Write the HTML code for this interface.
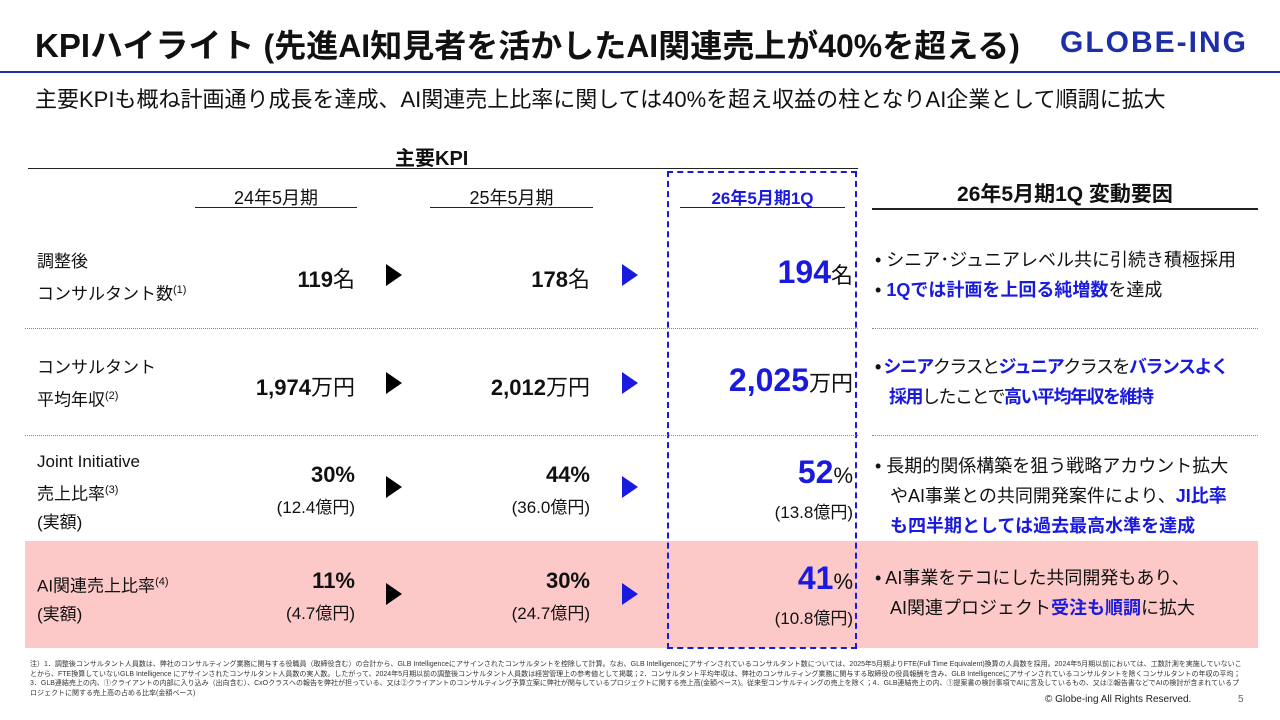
<!DOCTYPE html>
<html><head><meta charset="utf-8">
<style>
*{margin:0;padding:0;box-sizing:border-box}
body{width:1280px;height:720px;background:#fff;position:relative;overflow:hidden;font-family:"Liberation Sans","Noto Sans CJK JP",sans-serif;color:#111}
.a{position:absolute;white-space:nowrap}
.b{font-weight:bold}
.blue{color:#1a1adf}
.hr{position:absolute;height:0;border-top:1px solid #222}
.dot{position:absolute;height:0;border-top:1px dotted #888}
.lbl{font-size:17px;line-height:28px}
.val{font-size:22px;text-align:right}
.sub{font-size:17px;text-align:right}
.big{font-size:32px;font-weight:bold;color:#1a1adf}
.tri{position:absolute;width:0;height:0;border-top:11px solid transparent;border-bottom:11px solid transparent;border-left:16px solid #000}
.tri.bl{border-left-color:#1a1adf}
.rt{position:absolute;left:875px;font-size:18px;line-height:30px;white-space:nowrap}
</style></head><body>
<div class="a b" style="left:35px;top:19px;font-size:33px">KPIハイライト <span style="font-size:32px">(先進AI知見者を活かしたAI関連売上が40%を超える)</span></div>
<div class="a b" style="left:1060px;top:26px;font-size:30px;color:#1d2fa8;letter-spacing:2px">GLOBE-ING</div>
<div class="hr" style="left:0;top:71px;width:1280px;border-top:2px solid #1d2fa8"></div>
<div class="a" style="left:35px;top:82px;font-size:22px">主要KPIも概ね計画通り成長を達成、AI関連売上比率に関しては40%を超え収益の柱となりAI企業として順調に拡大</div>

<div class="a" style="left:25px;top:541px;width:1233px;height:107px;background:#fcc8c8"></div>

<div class="a b" style="left:395px;top:142px;font-size:20px">主要KPI</div>
<div class="hr" style="left:28px;top:168px;width:830px"></div>
<div class="a" style="left:195px;top:184px;width:162px;text-align:center;font-size:18px">24年5月期</div>
<div class="hr" style="left:195px;top:207px;width:162px"></div>
<div class="a" style="left:430px;top:184px;width:163px;text-align:center;font-size:18px">25年5月期</div>
<div class="hr" style="left:430px;top:207px;width:163px"></div>
<div class="a b blue" style="left:680px;top:184px;width:165px;text-align:center;font-size:17px">26年5月期1Q</div>
<div class="hr" style="left:680px;top:207px;width:165px"></div>
<div class="a b" style="left:872px;top:178px;width:386px;text-align:center;font-size:21px">26年5月期1Q 変動要因</div>
<div class="hr" style="left:872px;top:208px;width:386px;border-top:2px solid #222"></div>

<div class="a" style="left:667px;top:171px;width:190px;height:478px;border:2px dashed #1a1adf"></div>

<!-- row 1 -->
<div class="a lbl" style="left:37px;top:248px">調整後<br>コンサルタント数<sup style="font-size:11px">(1)</sup></div>
<div class="a val" style="left:200px;top:262px;width:155px"><b>119</b>名</div>
<div class="tri" style="left:386px;top:264px"></div>
<div class="a val" style="left:430px;top:262px;width:160px"><b>178</b>名</div>
<div class="tri bl" style="left:622px;top:264px"></div>
<div class="a val" style="left:680px;top:254px;width:173px"><span class="big">194</span>名</div>
<div class="rt" style="top:245px">• シニア･ジュニアレベル共に引続き積極採用<br>• <b class="blue">1Qでは計画を上回る純増数</b>を達成</div>
<div class="dot" style="left:25px;top:328px;width:833px"></div>
<div class="dot" style="left:872px;top:328px;width:386px"></div>

<!-- row 2 -->
<div class="a lbl" style="left:37px;top:354px">コンサルタント<br>平均年収<sup style="font-size:11px">(2)</sup></div>
<div class="a val" style="left:190px;top:370px;width:165px"><b>1,974</b>万円</div>
<div class="tri" style="left:386px;top:372px"></div>
<div class="a val" style="left:420px;top:370px;width:170px"><b>2,012</b>万円</div>
<div class="tri bl" style="left:622px;top:372px"></div>
<div class="a val" style="left:670px;top:362px;width:183px"><span class="big">2,025</span>万円</div>
<div class="rt b" style="top:352px;letter-spacing:-1.5px">• <span class="blue">シニア</span><span style="font-weight:normal">クラスと</span><span class="blue">ジュニア</span><span style="font-weight:normal">クラスを</span><span class="blue">バランスよく</span><br>&nbsp;&nbsp;&nbsp;&nbsp;<span class="blue">採用</span><span style="font-weight:normal">したことで</span><span class="blue">高い平均年収を維持</span></div>
<div class="dot" style="left:25px;top:435px;width:833px"></div>
<div class="dot" style="left:872px;top:435px;width:386px"></div>

<!-- row 3 -->
<div class="a lbl" style="left:37px;top:448px">Joint Initiative<br>売上比率<sup style="font-size:11px">(3)</sup><br>(実額)</div>
<div class="a val" style="left:200px;top:462px;width:155px"><b>30%</b></div>
<div class="a sub" style="left:200px;top:493px;width:155px">(12.4億円)</div>
<div class="tri" style="left:386px;top:476px"></div>
<div class="a val" style="left:430px;top:462px;width:160px"><b>44%</b></div>
<div class="a sub" style="left:430px;top:493px;width:160px">(36.0億円)</div>
<div class="tri bl" style="left:622px;top:476px"></div>
<div class="a val" style="left:680px;top:454px;width:173px"><span class="big">52</span>%</div>
<div class="a sub" style="left:680px;top:498px;width:173px">(13.8億円)</div>
<div class="rt" style="top:451px">• 長期的関係構築を狙う戦略アカウント拡大<br>&nbsp;&nbsp;&nbsp;やAI事業との共同開発案件により、<b class="blue">JI比率</b><br>&nbsp;&nbsp;&nbsp;<b class="blue">も四半期としては過去最高水準を達成</b></div>

<!-- row 4 -->
<div class="a lbl" style="left:37px;top:568px">AI関連売上比率<sup style="font-size:11px">(4)</sup><br>(実額)</div>
<div class="a val" style="left:200px;top:568px;width:155px"><b>11%</b></div>
<div class="a sub" style="left:200px;top:599px;width:155px">(4.7億円)</div>
<div class="tri" style="left:386px;top:583px"></div>
<div class="a val" style="left:430px;top:568px;width:160px"><b>30%</b></div>
<div class="a sub" style="left:430px;top:599px;width:160px">(24.7億円)</div>
<div class="tri bl" style="left:622px;top:583px"></div>
<div class="a val" style="left:680px;top:560px;width:173px"><span class="big">41</span>%</div>
<div class="a sub" style="left:680px;top:604px;width:173px">(10.8億円)</div>
<div class="rt" style="top:563px">• AI事業をテコにした共同開発もあり、<br>&nbsp;&nbsp;&nbsp;AI関連プロジェクト<b class="blue">受注も順調</b>に拡大</div>

<div class="a" style="left:30px;top:660px;font-size:7px;line-height:9.5px;color:#333;white-space:normal;width:1215px">注）1．調整後コンサルタント人員数は、弊社のコンサルティング業務に関与する役職員（取締役含む）の合計から、GLB Intelligenceにアサインされたコンサルタントを控除して計算。なお、GLB Intelligenceにアサインされているコンサルタント数については、2025年5月期よりFTE(Full Time Equivalent)換算の人員数を採用。2024年5月期以前においては、工数計測を実施していないことから、FTE換算していないGLB Intelligence にアサインされたコンサルタント人員数の実人数。したがって、2024年5月期以前の調整後コンサルタント人員数は経営管理上の参考値として掲載；2．コンサルタント平均年収は、弊社のコンサルティング業務に関与する取締役の役員報酬を含み、GLB Intelligenceにアサインされているコンサルタントを除くコンサルタントの年収の平均；3．GLB連結売上の内、①クライアントの内部に入り込み（出向含む）、CxOクラスへの報告を弊社が担っている、又は②クライアントのコンサルティング予算立案に弊社が関与しているプロジェクトに関する売上高(金額ベース)。従来型コンサルティングの売上を除く；4．GLB連結売上の内、①提案書の検討事項でAIに言及しているもの、又は②報告書などでAIの検討が含まれているプロジェクトに関する売上高の占める比率(金額ベース)</div>
<div class="a" style="left:1045px;top:694px;font-size:10px;color:#222">© Globe-ing All Rights Reserved.</div>
<div class="a" style="left:1238px;top:694px;font-size:10px;color:#666">5</div>
</body></html>
